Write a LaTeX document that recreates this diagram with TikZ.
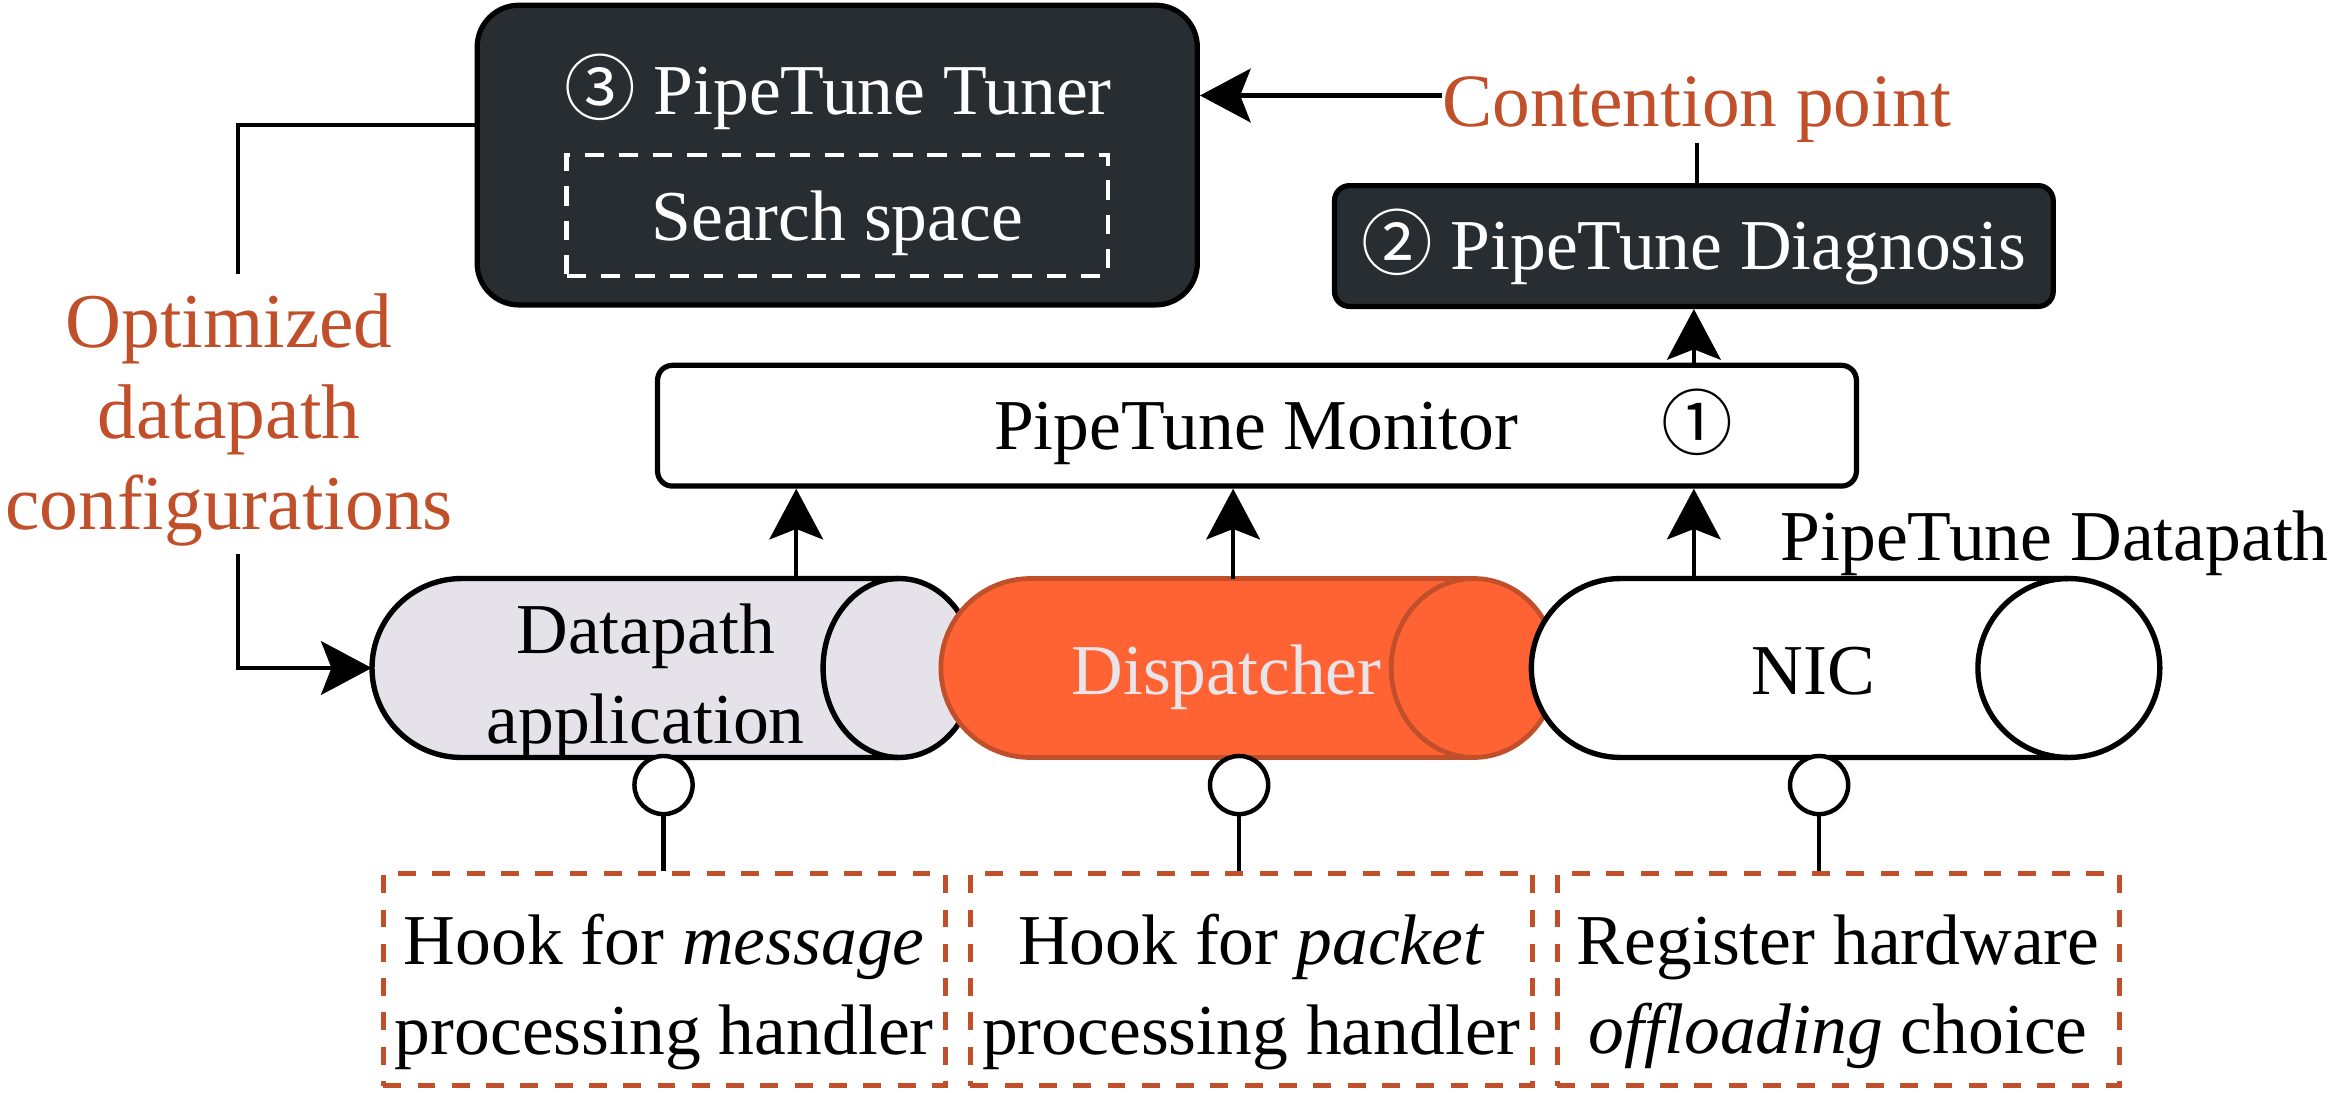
\documentclass[tikz,border=0pt]{standalone}
\usepackage{fontspec}
\setmainfont{Liberation Serif}
\newfontfamily\circfont{Noto Sans CJK SC}
\usetikzlibrary{arrows.meta}
\definecolor{boxdark}{RGB}{40,45,49}
\definecolor{rust}{RGB}{192,79,42}
\definecolor{dispfill}{RGB}{255,99,51}
\definecolor{lavfill}{RGB}{230,226,233}
\definecolor{lavtext}{RGB}{232,228,234}
\newcommand{\circd}[1]{{\circfont\fontsize{48}{60}\selectfont #1}}
\begin{document}
\begin{tikzpicture}[x=1pt,y=-1pt,
  font=\fontsize{48}{60}\selectfont,
  txt/.style={inner sep=0pt, anchor=base},
  mtxt/.style={inner sep=0pt, align=center},
  conn/.style={line width=2.8pt},
  arr/.style={conn, -{Stealth[length=34pt,width=36pt,inset=7pt]}},
  tunerbox/.style={draw=black, fill=boxdark, line width=3.5pt, rounded corners=28pt, inner sep=0pt},
  diagbox/.style={draw=black, fill=boxdark, line width=3.5pt, rounded corners=10pt, inner sep=0pt},
  monbox/.style={draw=black, fill=white, line width=3.5pt, rounded corners=10pt, inner sep=0pt},
  searchbox/.style={draw=white, line width=3pt, dash pattern=on 13pt off 10pt, inner sep=0pt},
  hookbox/.style={draw=rust, line width=3.4pt, dash pattern=on 12pt off 11pt, inner sep=0pt, minimum width=377pt, minimum height=142pt},
  hook/.style={circle, draw=black, fill=white, line width=3pt, minimum size=39pt, inner sep=0pt},
  cylspan/.style={inner sep=0pt, minimum height=120pt},
  cylA/.style={draw=black, fill=lavfill, line width=3.6pt},
  cylB/.style={draw=rust, fill=dispfill, line width=3.2pt},
  cylC/.style={draw=black, fill=white, line width=3.6pt}
]
\useasboundingbox (0,0) rectangle (1568,733);

% ---- Tuner
\node[tunerbox, minimum width=483pt, minimum height=201pt] (tuner) at (561.5,104) {};
\node[txt, text=white] (tunert) at (562,77) {\circd{③} PipeTune Tuner};
\node[searchbox, minimum width=363pt, minimum height=81pt] (search) at (561.5,144.5) {};
\node[txt, text=white] (searcht) at (561.5,161) {Search space};

% ---- Diagnosis
\node[diagbox, minimum width=482pt, minimum height=81pt] (diag) at (1136,165) {};
\node[txt, text=white] (diagt) at (1136,181) {\circd{②} PipeTune Diagnosis};

% ---- Contention point
\node[txt, text=rust, font=\fontsize{50.5}{60}\selectfont] (cont) at (1138,84.7) {Contention point};
\draw[conn] (cont.south) -- (cont.south |- diag.north);
\coordinate (cw) at ([yshift=9.3pt]cont.west);
\draw[arr] (cw) -- (cw -| tuner.east);

% ---- Monitor
\node[monbox, minimum width=804pt, minimum height=81pt] (monitor) at (843,285.5) {};
\node[txt] (mont) at (842.5,301.6) {PipeTune Monitor};
\node[txt] (mon1) at (1138,301.6) {\circd{①}};
\draw[arr] (diag.south |- monitor.north) -- (diag.south);

% ---- Cylinders
\node[cylspan, minimum width=404.5pt] (da) at (451.75,448) {};
\draw[cylA] (309.5,388) -- (603,388) arc[start angle=90, end angle=-90, x radius=51pt, y radius=60pt]
  -- (309.5,508) arc[start angle=270, end angle=90, radius=60pt] -- cycle;
\draw[cylA, fill=none] (603,388) arc[start angle=90, end angle=270, x radius=51pt, y radius=60pt];
\node[mtxt] (dat) at (433,456.8) {Datapath\\application};

\node[cylspan, minimum width=413pt] (disp) at (837.5,448) {};
\draw[cylB] (691,388) -- (988.5,388) arc[start angle=90, end angle=-90, x radius=55.5pt, y radius=60pt]
  -- (691,508) arc[start angle=270, end angle=90, radius=60pt] -- cycle;
\draw[cylB, fill=none] (988.5,388) arc[start angle=90, end angle=270, x radius=55.5pt, y radius=60pt];
\node[txt, text=lavtext] (dispt) at (822.6,466) {Dispatcher};

\node[cylspan, minimum width=421.5pt] (nic) at (1237.75,448) {};
\draw[cylC] (1087,388) -- (1387.5,388) arc[start angle=90, end angle=-90, x radius=61pt, y radius=60pt]
  -- (1087,508) arc[start angle=270, end angle=90, radius=60pt] -- cycle;
\draw[cylC, fill=none] (1387.5,388) arc[start angle=90, end angle=270, x radius=61pt, y radius=60pt];
\node[txt] (nict) at (1216,466) {NIC};

\node[txt] (dpl) at (1378,376) {PipeTune Datapath};

% ---- Arrows up to monitor
\coordinate (datop) at (534,388);
\coordinate (disptop) at (827,388);
\coordinate (nictop) at (1136,388);
\draw[arr] (datop) -- (datop |- monitor.south);
\draw[arr] (disptop) -- (disptop |- monitor.south);
\draw[arr] (nictop) -- (nictop |- monitor.south);

% ---- Hooks and boxes
\node[hookbox] (b1) at (445.5,657) {};
\node[hookbox] (b2) at (839.3,657) {};
\node[hookbox] (b3) at (1232.8,657) {};
\node[hook] (h1) at (445,526.5) {};
\node[hook] (h2) at (831,526.5) {};
\node[hook] (h3) at (1220,526.5) {};
\draw[conn] (h1.south) -- (h1.south |- b1.north);
\draw[conn] (h2.south) -- (h2.south |- b2.north);
\draw[conn] (h3.south) -- (h3.south |- b3.north);
\node[mtxt] (b1t) at (445.5,665.3) {Hook for \textit{message}\\processing handler};
\node[mtxt] (b2t) at (839.3,665.3) {Hook for \textit{packet}\\processing handler};
\node[mtxt] (b3t) at (1232.8,665.3) {Register hardware\\\textit{offloading} choice};

% ---- Optimized configurations feedback
\node[mtxt, text=rust, font=\fontsize{52}{61}\selectfont] (opt) at (153.6,281.5) {Optimized\\datapath\\configurations};
\draw[conn] ([yshift=20.2pt]tuner.west) -| ([xshift=5.8pt,yshift=12.6pt]opt.north);
\draw[arr] ([xshift=5.8pt,yshift=-5.3pt]opt.south) |- (da.west);
\end{tikzpicture}
\end{document}
